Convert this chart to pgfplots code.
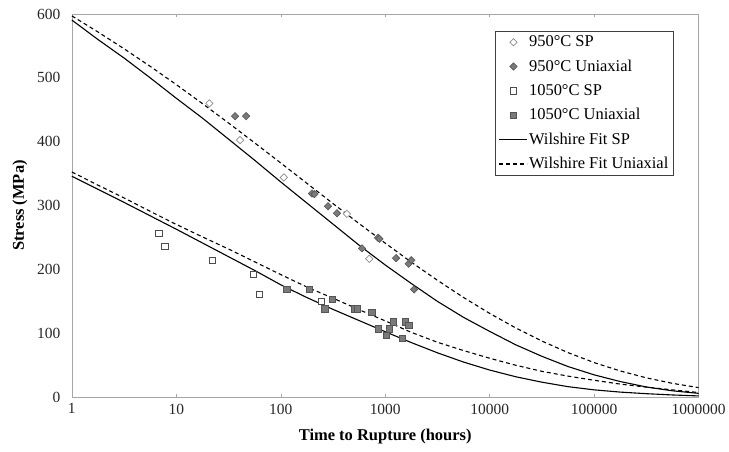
\documentclass[border=0pt]{standalone}
\usepackage{fontspec}
\setmainfont{Liberation Serif}
\usepackage{pgfplots}
\pgfplotsset{compat=1.18}
\usepackage{pgfplotstable}

% Wilshire fit curves
\pgfplotstableread{
t       spA    uaA    spB   uaB
1       590.5  597.0  346   352.6
1.778   560    571.8  325.5 332
3.162   531    545.5  305   312
5.623   500    518.0  284   291
10      468    489.4  263   270.5
17.78   437    459.7  241.5 251
31.62   404    429.3  220   232
56.23   371    398.2  198.5 212
100     337    366.7  176   192
177.8   304    334.9  156   172.5
316.2   271    303.2  137.5 155
562.3   238    271.8  120   137
1000    207    241.2  102.5 119.5
1778    178    211.4  85.5  101.5
3162    150    183.0  69.5  86
5623    125    156.1  55    73
10000   103    131.2  42.5  61
17783   82     108.4  32    50
31623   64     87.9   23.5  40.5
56234   48     69.8   16.5  33
100000  35     54.2   11.5  26.5
177828  24.5   41.1   8     20.5
316228  16     30.3   5.5   15.8
562341  10     21.7   3.5   11.5
1000000 6      15.0   2     7.3
}\fits

\definecolor{axgray}{HTML}{A6A6A6}
\definecolor{mkfill}{HTML}{7A7A7A}
\definecolor{mkedge}{HTML}{555555}

\begin{document}
\begin{tikzpicture}
\begin{axis}[
  xmode=log, log basis x=10,
  scale only axis, width=628pt, height=384pt,
  xmin=1, xmax=1000000, ymin=0, ymax=600,
  xtick={1,10,100,1000,10000,100000,1000000},
  xticklabels={1,10,100,1000,10000,100000,1000000},
  ytick={0,100,200,300,400,500,600},
  /pgf/number format/assume math mode=true,
  ticklabel style={font=\fontsize{15.5}{18}\selectfont, text=black!85},
  yticklabel style={xshift=-8pt},
  xticklabel style={yshift=-3pt},
  axis line style={draw=axgray},
  every tick/.style={draw=axgray},
  major y tick style={draw=none},
  major tick length=3pt, minor tick length=3pt,
  xlabel={Time to Rupture (hours)},
  ylabel={Stress (MPa)},
  label style={font=\fontsize{16.5}{19}\selectfont\bfseries},
  xlabel style={yshift=-8pt},
  ylabel style={yshift=3pt},
  legend style={at={(rel axis cs:0.960,0.956)}, anchor=north east,
    draw=black!75, font=\fontsize{16.5}{19}\selectfont,
    row sep=7.6pt, inner xsep=3pt, inner ysep=3pt, cells={anchor=west}},
  legend image code/.code={\draw[mark repeat=2,mark phase=2,#1] plot coordinates {(0pt,0pt) (15pt,0pt) (28pt,0pt)};},
  clip=false,
]
% 950 C SP
\addplot[only marks, mark=square*, mark size=2.6pt,
  mark options={rotate=45, draw=black!45, fill=white, line width=0.7pt}]
  coordinates {(20.7,460) (40.8,402.6) (107,344) (430,287) (704,216.7)};
\addlegendentry{950°C SP}
% 950 C Uniaxial
\addplot[only marks, mark=square*, mark size=2.6pt,
  mark options={rotate=45, draw=mkedge, fill=mkfill, line width=0.6pt}]
  coordinates {(36.5,440) (46.6,440) (199,319) (210,318) (283,299) (345,288)
   (599,233) (853,249.5) (880,248) (1270,217.7) (1676,209) (1778,214.5) (1888,168.75)};
\addlegendentry{950°C Uniaxial}
% 1050 C SP
\addplot[only marks, mark=square*, mark size=3.2pt,
  mark options={draw=black!70, fill=white, line width=0.7pt}]
  coordinates {(6.78,257) (7.74,236.4) (22,214.5) (54.7,192) (62.5,161.5) (245.6,150)};
\addlegendentry{1050°C SP}
% 1050 C Uniaxial
\addplot[only marks, mark=square*, mark size=3.2pt,
  mark options={draw=mkedge, fill=mkfill, line width=0.6pt}]
  coordinates {(114,169) (187,169) (311,153) (265,138.6) (506,138.6) (537,138.6)
   (741,133) (853,107) (1188,118) (1094,107) (1018,97) (1559,118) (1677,113) (1459,92)};
\addlegendentry{1050°C Uniaxial}
% fits
\addplot[black, line width=1.1pt] table[x=t, y=spA] {\fits};
\addlegendentry{Wilshire Fit SP}
\addplot[black, line width=1.1pt, dash pattern=on 4pt off 3pt] table[x=t, y=uaA] {\fits};
\addlegendentry{Wilshire Fit Uniaxial}
\addplot[black, line width=1.1pt, forget plot] table[x=t, y=spB] {\fits};
\addplot[black, line width=1.1pt, dash pattern=on 4pt off 3pt, forget plot] table[x=t, y=uaB] {\fits};
\coordinate (sw) at (rel axis cs:0,0);
\coordinate (ne) at (rel axis cs:1,1);
\end{axis}
\path (sw) ++(-72pt,-54pt) rectangle ([xshift=29pt,yshift=14pt]ne);
\end{tikzpicture}
\end{document}
